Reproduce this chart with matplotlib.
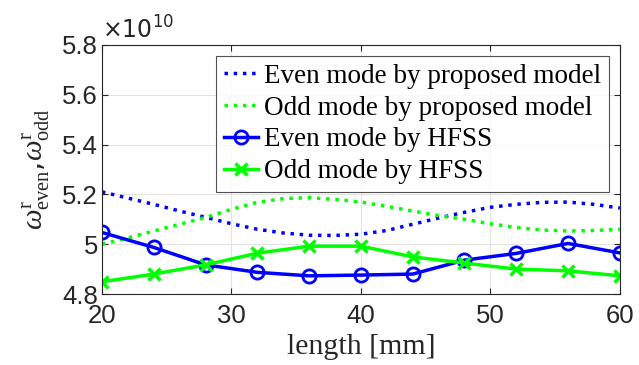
import numpy as np
import matplotlib
matplotlib.use('Agg')
import matplotlib.pyplot as plt
from matplotlib.ticker import FuncFormatter

plt.rcParams['mathtext.fontset'] = 'custom'
plt.rcParams['mathtext.rm'] = 'Liberation Serif'
plt.rcParams['mathtext.it'] = 'Liberation Serif:italic'

# resonant frequency values, in units of 1e10 rad/s
len_model = [20, 22, 24, 26, 28, 30, 32, 34, 36, 38, 40, 42, 44, 46, 48, 50, 52, 54, 56, 58, 60]
even_model = [5.21, 5.185, 5.16, 5.133, 5.108, 5.082, 5.06, 5.045, 5.036, 5.035, 5.04,
              5.055, 5.08, 5.105, 5.128, 5.148, 5.16, 5.168, 5.169, 5.16, 5.145]
odd_model = [5.0, 5.025, 5.053, 5.08, 5.107, 5.14, 5.168, 5.183, 5.187, 5.18, 5.169,
             5.152, 5.133, 5.115, 5.1, 5.082, 5.067, 5.057, 5.053, 5.055, 5.06]

len_hfss = [20, 24, 28, 32, 36, 40, 44, 48, 52, 56, 60]
even_hfss = [5.047, 4.987, 4.917, 4.887, 4.873, 4.876, 4.88, 4.936, 4.963, 5.003, 4.965]
odd_hfss = [4.849, 4.88, 4.917, 4.964, 4.992, 4.992, 4.949, 4.924, 4.90, 4.893, 4.873]

yticks = [4.8, 5.0, 5.2, 5.4, 5.6, 5.8]
xticks = [20, 30, 40, 50, 60]

fig = plt.figure(figsize=(6.39, 3.65), dpi=100)
ax = fig.add_axes([0.1596, 0.1945, 0.8104, 0.6825])

ax.plot(len_model, even_model, color='#0000ff', ls=':', lw=2.5, label='Even mode by proposed model')
ax.plot(len_model, odd_model, color='#00ff00', ls=':', lw=2.5, label='Odd mode by proposed model')
ax.plot(len_hfss, even_hfss, color='#0000ff', lw=2.5, marker='o', ms=9.5, mfc='none', mew=2,
        label='Even mode by HFSS')
ax.plot(len_hfss, odd_hfss, color='#00ff00', lw=2.5, marker='x', ms=8, mew=2.5,
        label='Odd mode by HFSS')

ax.set_xlim(20, 60)
ax.set_ylim(4.8, 5.8)
ax.set_xticks(xticks)
ax.set_yticks(yticks)
ax.yaxis.set_major_formatter(FuncFormatter(lambda v, p: '%g' % round(v, 1)))
ax.tick_params(direction='in', length=4, labelsize=18.5, top=True, right=True, width=0.8,
               colors='#262626')
ax.tick_params(axis='x', pad=7.5)
ax.tick_params(axis='y', pad=3)
for lbl in ax.get_xticklabels() + ax.get_yticklabels():
    lbl.set_fontfamily('Liberation Sans')
ax.grid(True, color='#e3e3e3', lw=0.8)
ax.set_axisbelow(True)
for s in ax.spines.values():
    s.set_color('#262626')
    s.set_linewidth(0.8)

ax.text(0.0, 1.005, r'$\times10^{10}$', transform=ax.transAxes, ha='left', va='bottom',
        fontsize=17, family='Liberation Sans', math_fontfamily='dejavusans', color='#262626')

ax.set_xlabel('length [mm]', fontsize=21.5, family='Liberation Serif', labelpad=4,
              color='#262626')
ax.set_ylabel(r'$\omega^{\rm r}_{\rm even}$,$\omega^{\rm r}_{\rm odd}$', fontsize=21,
              labelpad=7, color='#262626')

leg = ax.legend(loc='upper right', prop={'family': 'Liberation Serif', 'size': 19.5},
                frameon=True, fancybox=False, edgecolor='#262626', handlelength=1.25,
                handletextpad=0.2, labelspacing=0.25, borderpad=0.3, borderaxespad=0.4)
leg.get_frame().set_linewidth(0.8)

fig.savefig('out.png', dpi=100)
